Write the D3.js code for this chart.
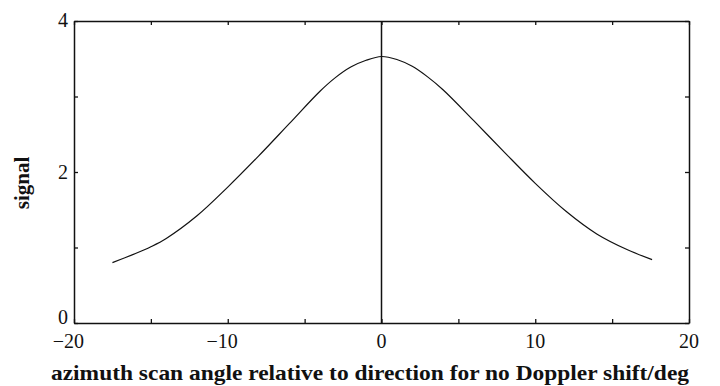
<!DOCTYPE html>
<html>
<head>
<meta charset="utf-8">
<script src="https://cdn.jsdelivr.net/npm/d3@7"></script>
<style>
  html, body { margin: 0; padding: 0; background: #fff; }
  svg text { font-family: "Liberation Serif", "DejaVu Serif", serif; fill: #111; }
</style>
</head>
<body>
<svg id="chart" width="720" height="386"></svg>
<script>
// Scan angle (deg) and measured signal along the beam profile
const angles = [-17.5, -16, -15, -14, -12, -10, -8, -6, -4, -3, -2, -1, 0, 1, 2, 3, 4, 6, 8, 10, 12, 14, 16, 17.6];
const signal = [0.80, 0.92, 1.01, 1.12, 1.42, 1.80, 2.21, 2.64, 3.07, 3.25, 3.39, 3.48, 3.53, 3.49, 3.40, 3.26, 3.09, 2.68, 2.26, 1.85, 1.48, 1.18, 0.97, 0.84];

const xTickLabels = [-20, -10, 0, 10, 20];
const xMinorTicks = [-20, -15, -10, -5, 0, 5, 10, 15, 20];
const yTickLabels = [0, 2, 4];
const yMinorTicks = [0, 1, 2, 3, 4];

const margin = { left: 74, right: 31, top: 21, bottom: 63 };
const W = 720, H = 386;
const svg = d3.select("#chart");

const x = d3.scaleLinear().domain([-20, 20]).range([margin.left, W - margin.right]);
const y = d3.scaleLinear().domain([0, 4]).range([H - margin.bottom, margin.top]);

const tickLen = 4;

// Inward ticks on all four sides
const axBottom = d3.axisBottom(x).tickValues(xMinorTicks).tickSizeInner(-tickLen).tickSizeOuter(0).tickFormat("");
const axTop = d3.axisTop(x).tickValues(xMinorTicks).tickSizeInner(-tickLen).tickSizeOuter(0).tickFormat("");
const axLeft = d3.axisLeft(y).tickValues(yMinorTicks).tickSizeInner(-tickLen).tickSizeOuter(0).tickFormat("");
const axRight = d3.axisRight(y).tickValues(yMinorTicks).tickSizeInner(-tickLen).tickSizeOuter(0).tickFormat("");

function styleAxis(g) {
  g.selectAll("path.domain").attr("stroke", "#111").attr("stroke-width", 1.5);
  g.selectAll(".tick line").attr("stroke", "#111").attr("stroke-width", 1.3);
}

svg.append("g").attr("transform", `translate(0,${y(0)})`).call(axBottom).call(styleAxis);
svg.append("g").attr("transform", `translate(0,${y(4)})`).call(axTop).call(styleAxis);
svg.append("g").attr("transform", `translate(${x(-20)},0)`).call(axLeft).call(styleAxis);
svg.append("g").attr("transform", `translate(${x(20)},0)`).call(axRight).call(styleAxis);

// X tick labels: digits centred on the tick, minus sign hanging to the left
const xl = svg.append("g");
xTickLabels.forEach(d => {
  const digits = xl.append("text")
    .attr("x", x(d))
    .attr("y", y(0) + 25)
    .attr("text-anchor", "middle")
    .attr("font-size", 20)
    .text(String(Math.abs(d)));
  if (d < 0) {
    const w = digits.node().getComputedTextLength();
    xl.append("text")
      .attr("x", x(d) - w / 2)
      .attr("y", y(0) + 25)
      .attr("text-anchor", "end")
      .attr("font-size", 20)
      .text("\u2212");
  }
});

// Y tick labels
const yOffset = { 0: 1, 2: 7, 4: 6 };
svg.append("g").selectAll("text").data(yTickLabels).join("text")
  .attr("x", x(-20) - 6)
  .attr("y", d => y(d) + yOffset[d])
  .attr("text-anchor", "end")
  .attr("font-size", 20)
  .text(d => String(d));

// Reference line at zero angle
svg.append("line")
  .attr("x1", x(0)).attr("x2", x(0))
  .attr("y1", y(0)).attr("y2", y(4))
  .attr("stroke", "#111").attr("stroke-width", 1.5);

// Signal profile
const pts = angles.map((a, i) => [a, signal[i]]);
svg.append("path")
  .datum(pts)
  .attr("fill", "none")
  .attr("stroke", "#111")
  .attr("stroke-width", 1.2)
  .attr("d", d3.line().x(d => x(d[0])).y(d => y(d[1])).curve(d3.curveCatmullRom.alpha(0.5)));

// Axis titles
svg.append("text")
  .attr("x", 370)
  .attr("y", 380)
  .attr("text-anchor", "middle")
  .attr("font-size", 22)
  .attr("font-weight", "bold")
  .attr("textLength", 638)
  .attr("lengthAdjust", "spacingAndGlyphs")
  .text("azimuth scan angle relative to direction for no Doppler shift/deg");

svg.append("text")
  .attr("transform", `translate(29,${183}) rotate(-90)`)
  .attr("text-anchor", "middle")
  .attr("font-size", 21)
  .attr("font-weight", "bold")
  .text("signal");
</script>
</body>
</html>
